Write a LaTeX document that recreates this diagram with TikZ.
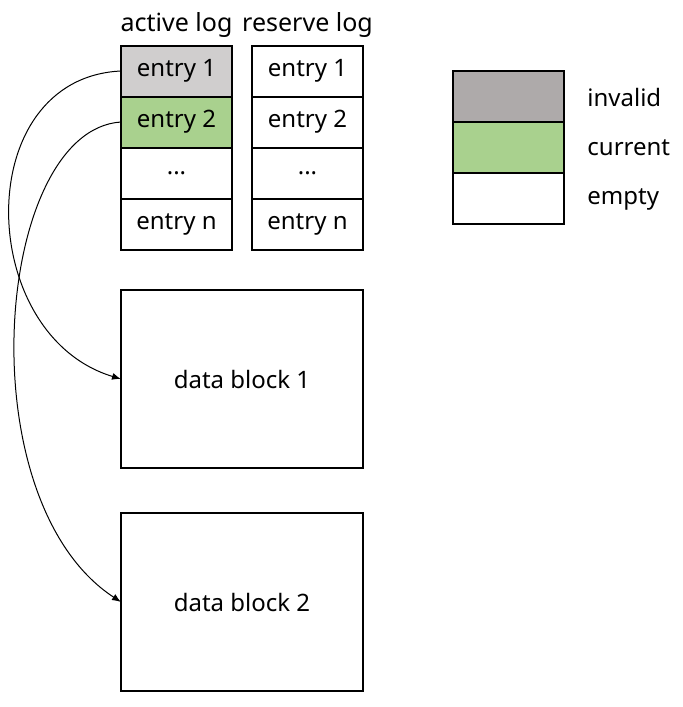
\documentclass[tikz,border=0pt]{standalone}
\usepackage{fontspec}
\setmainfont{Noto Sans}
\usetikzlibrary{arrows.meta,positioning}
\definecolor{invalidgray}{HTML}{AEAAAA}
\definecolor{usedgray}{HTML}{D0CECE}
\definecolor{currentgreen}{HTML}{A9D18E}
\definecolor{textdark}{HTML}{000000}
\tikzset{
  >=Latex,
  cell/.style={
    rectangle, draw=black, line width=1pt, fill=white, outer sep=0pt,
    minimum width=55.5pt, minimum height=25.5pt, inner sep=0pt,
    font=\fontsize{12}{14}\selectfont, text=textdark
  },
  block/.style={
    rectangle, draw=black, line width=1pt, fill=white, outer sep=0pt,
    minimum width=121pt, minimum height=89pt, inner sep=0pt,
    font=\fontsize{12}{14}\selectfont, text=textdark
  },
  head/.style={font=\fontsize{12.5}{14}\selectfont, text=textdark, inner sep=0pt},
  legendtext/.style={font=\fontsize{12}{14}\selectfont, text=textdark, anchor=west, inner sep=0pt},
  link/.style={-{Latex[length=4.5pt,width=3.5pt]}, line width=0.5pt, draw=black}
}

\begin{document}
\begin{tikzpicture}[x=0.5pt,y=-0.5pt]
\useasboundingbox (0,0) rectangle (682,707);
% active log
\node[cell, fill=usedgray] (a1) at (176.5,71) {entry 1};
\node[cell, fill=currentgreen, below=0pt of a1] (a2) {entry 2};
\node[cell, below=0pt of a2] (a3) {...};
\node[cell, below=0pt of a3] (a4) {entry n};
\node[head, above=4pt of a1] (ahead) {active log};
% reserve log
\node[cell] (r1) at (307.5,71) {entry 1};
\node[cell, below=0pt of r1] (r2) {entry 2};
\node[cell, below=0pt of r2] (r3) {...};
\node[cell, below=0pt of r3] (r4) {entry n};
\node[head, above=4pt of r1] (rhead) {reserve log};
% data blocks
\node[block] (d1) at (242,379) {data block 1};
\node[block] (d2) at (242,602) {data block 2};
% legend
\node[cell, fill=invalidgray] (l1) at (508.5,96) {};
\node[cell, fill=currentgreen, below=0pt of l1] (l2) {};
\node[cell, below=0pt of l2] (l3) {};
\node[legendtext] at (587,97) (t1) {invalid};
\node[legendtext] at (587,148) (t2) {current};
\node[legendtext] at (587,199) (t3) {empty};
% pointers
\draw[link] (a1.west) .. controls (-30,78) and (-25,335) .. (d1.west);
\draw[link] (a2.west) .. controls (-5,130) and (-35,500) .. (d2.west);
\end{tikzpicture}
\end{document}
